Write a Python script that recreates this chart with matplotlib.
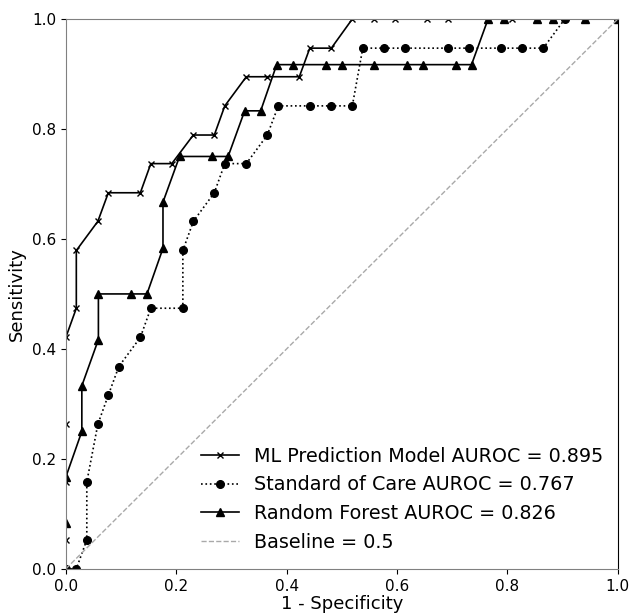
# ROC comparison plot
# plot.py
##################################

# IMPORT STATEMENTS
##################################
import numpy as np
import matplotlib
matplotlib.use("Agg")
import matplotlib.pyplot as plt


# DATA
##################################
ml_fpr = [0.0, 0.0, 0.0, 0.0, 0.0, 0.019, 0.019, 0.058, 0.077, 0.135, 0.154,
          0.192, 0.231, 0.269, 0.288, 0.327, 0.365, 0.423, 0.442, 0.481,
          0.519, 0.558, 0.596, 0.654, 0.692, 0.808, 1.0]
ml_tpr = [0.0, 0.053, 0.158, 0.263, 0.421, 0.474, 0.579, 0.632, 0.684, 0.684,
          0.737, 0.737, 0.789, 0.789, 0.842, 0.895, 0.895, 0.895, 0.947, 0.947,
          1.0, 1.0, 1.0, 1.0, 1.0, 1.0, 1.0]

soc_fpr = [0.0, 0.019, 0.038, 0.038, 0.058, 0.077, 0.096, 0.135, 0.154, 0.212,
           0.212, 0.231, 0.269, 0.288, 0.327, 0.365, 0.385, 0.442, 0.481,
           0.519, 0.538, 0.577, 0.615, 0.692, 0.731, 0.788, 0.827, 0.865,
           0.904, 1.0]
soc_tpr = [0.0, 0.0, 0.053, 0.158, 0.263, 0.316, 0.368, 0.421, 0.474, 0.474,
           0.579, 0.632, 0.684, 0.737, 0.737, 0.789, 0.842, 0.842, 0.842,
           0.842, 0.947, 0.947, 0.947, 0.947, 0.947, 0.947, 0.947, 0.947,
           1.0, 1.0]

rf_fpr = [0.0, 0.0, 0.0, 0.029, 0.029, 0.059, 0.059, 0.118, 0.147, 0.176,
          0.176, 0.206, 0.265, 0.294, 0.324, 0.353, 0.382, 0.412, 0.471, 0.5,
          0.559, 0.618, 0.647, 0.706, 0.735, 0.765, 0.794, 0.853, 0.882,
          0.941, 1.0]
rf_tpr = [0.0, 0.083, 0.167, 0.25, 0.333, 0.417, 0.5, 0.5, 0.5, 0.583, 0.667,
          0.75, 0.75, 0.75, 0.833, 0.833, 0.917, 0.917, 0.917, 0.917, 0.917,
          0.917, 0.917, 0.917, 0.917, 1.0, 1.0, 1.0, 1.0, 1.0, 1.0]

labels = ["ML Prediction Model AUROC = 0.895",
          "Standard of Care AUROC = 0.767",
          "Random Forest AUROC = 0.826",
          "Baseline = 0.5"]


# MAIN SCRIPT
###################################
fig = plt.figure(figsize=(6.33, 6.13), dpi=100)
ax = fig.add_axes([0.104, 0.072, 0.872, 0.897])

ax.plot(ml_fpr, ml_tpr, "k-", marker="x", markersize=5, lw=1.2,
        label=labels[0])
ax.plot(soc_fpr, soc_tpr, "k:", marker="o", markersize=5.5, lw=1.2,
        label=labels[1])
ax.plot(rf_fpr, rf_tpr, "k-", marker="^", markersize=5.5, lw=1.2,
        label=labels[2])
ax.plot([0, 1], [0, 1], "--", color="darkgray", lw=1, label=labels[3])

ax.set_xlim(0, 1)
ax.set_ylim(0, 1)
ax.set_xticks(np.arange(0, 1.01, 0.2))
ax.set_yticks(np.arange(0, 1.01, 0.2))
ax.tick_params(labelsize=11)
ax.set_xlabel("1 - Specificity", fontsize=13, labelpad=1)
ax.set_ylabel("Sensitivity", fontsize=13)

for side in ["left", "top", "bottom"]:
    ax.spines[side].set_color("gray")
ax.spines["right"].set_color("black")

ax.legend(loc="lower right", frameon=False, fontsize=13.8,
          bbox_to_anchor=(1.005, 0.0))

fig.savefig("out.png", dpi=100)
